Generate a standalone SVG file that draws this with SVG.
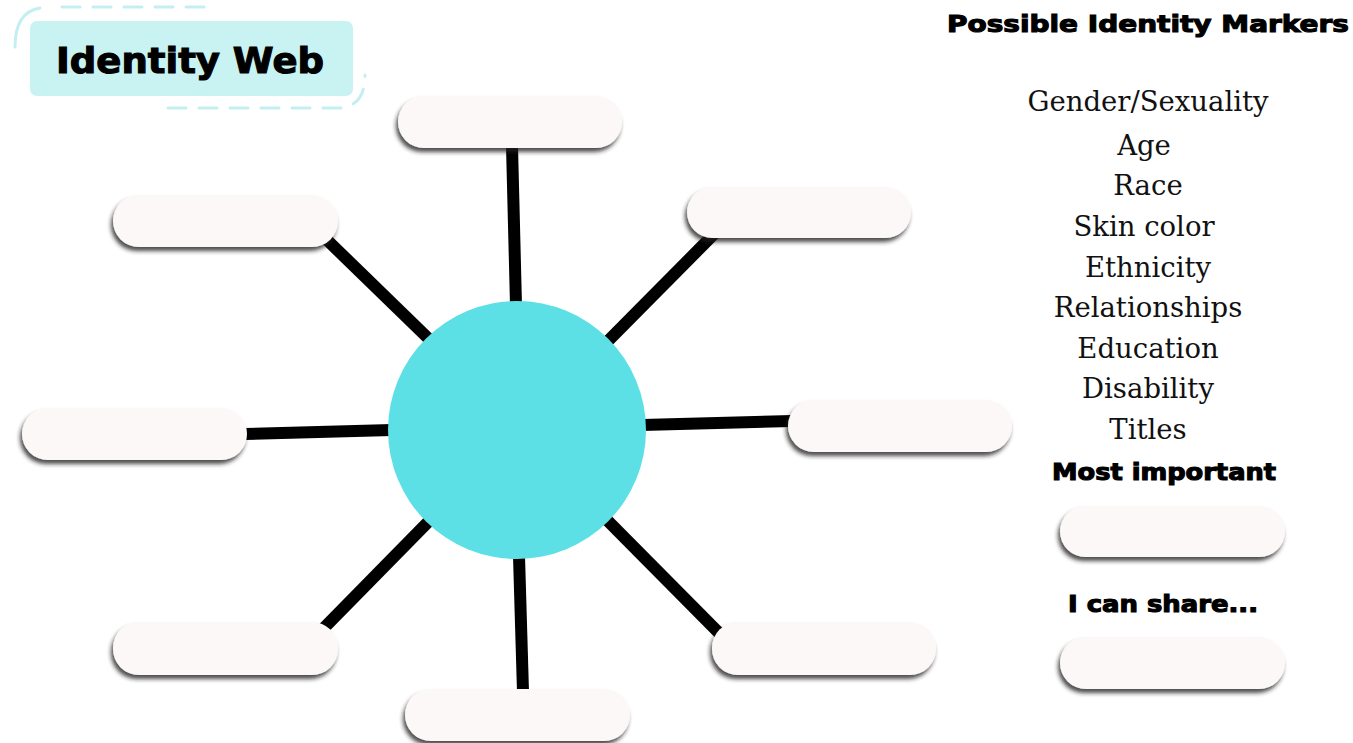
<svg xmlns="http://www.w3.org/2000/svg" width="1353" height="743" viewBox="0 0 1353 743">
<defs>
<filter id="sh" x="-10%" y="-30%" width="120%" height="170%">
<feDropShadow dx="-2" dy="4" stdDeviation="2.2" flood-color="#222" flood-opacity="0.8"/>
</filter>
<style>
.pill{fill:#fdf8f8;filter:url(#sh)}
.spoke{stroke:#000;stroke-width:12;stroke-linecap:butt}
.h{font-family:"DejaVu Sans","Liberation Sans",sans-serif;font-weight:bold;fill:#000;stroke:#000;stroke-width:1.1}
.s{font-family:"DejaVu Serif","Liberation Serif",serif;font-size:27.5px;fill:#111;text-anchor:middle}
.dash{fill:none;stroke:#c4eff2;stroke-width:3;stroke-linecap:round}
</style>
</defs>
<rect width="1353" height="743" fill="#fff"/>
<g id="title">
<path class="dash" d="M15 47 Q15 12 40 8"/>
<path class="dash" d="M62 7 H215" stroke-dasharray="18 13"/>
<path class="dash" d="M168 108 H340 Q365 106 365 75" stroke-dasharray="18 13"/>
<rect x="30" y="21" width="323" height="75" rx="7" fill="#c9f3f3"/>
<text class="h" x="190" y="73" font-size="35" text-anchor="middle" textLength="268" lengthAdjust="spacingAndGlyphs">Identity Web</text>
</g>
<g id="connectors">
<line class="spoke" x1="512" y1="146" x2="516" y2="305"/>
<line class="spoke" x1="325" y1="238" x2="432" y2="342"/>
<line class="spoke" x1="716" y1="232" x2="607" y2="342"/>
<line class="spoke" x1="245" y1="434" x2="392" y2="430"/>
<line class="spoke" x1="642" y1="425" x2="792" y2="421"/>
<line class="spoke" x1="432" y1="518" x2="320" y2="632"/>
<line class="spoke" x1="605" y1="518" x2="720" y2="634"/>
<line class="spoke" x1="519" y1="556" x2="523" y2="692"/>
</g>
<g id="center"><circle cx="517" cy="430" r="129" fill="#5ce0e6"/></g>
<g id="box-top"><rect class="pill" x="398" y="96" width="224" height="52" rx="26"/></g>
<g id="box-upper-left"><rect class="pill" x="113" y="195" width="225" height="52" rx="26"/></g>
<g id="box-upper-right"><rect class="pill" x="687" y="187" width="224" height="51" rx="25.5"/></g>
<g id="box-left"><rect class="pill" x="22" y="408" width="225" height="52" rx="26"/></g>
<g id="box-right"><rect class="pill" x="788" y="400" width="224" height="52" rx="26"/></g>
<g id="box-lower-left"><rect class="pill" x="113" y="622" width="225" height="53" rx="26"/></g>
<g id="box-lower-right"><rect class="pill" x="712" y="622" width="224" height="53" rx="26"/></g>
<g id="box-bottom"><rect class="pill" x="405" y="689" width="225" height="52" rx="26"/></g>
<g id="markers">
<text class="h" x="1148" y="32" font-size="23" text-anchor="middle" textLength="402" lengthAdjust="spacingAndGlyphs">Possible Identity Markers</text>
<text class="s" x="1148" y="111">Gender/Sexuality</text>
<text class="s" x="1144" y="155">Age</text>
<text class="s" x="1148" y="195">Race</text>
<text class="s" x="1144" y="236">Skin color</text>
<text class="s" x="1148" y="277">Ethnicity</text>
<text class="s" x="1148" y="317">Relationships</text>
<text class="s" x="1148" y="358">Education</text>
<text class="s" x="1148" y="398">Disability</text>
<text class="s" x="1148" y="439">Titles</text>
</g>
<g id="most-important">
<text class="h" x="1164" y="480" font-size="23" text-anchor="middle" textLength="224" lengthAdjust="spacingAndGlyphs">Most important</text>
<rect class="pill" x="1060" y="506" width="225" height="51" rx="25.5"/>
</g>
<g id="i-can-share">
<text class="h" x="1163" y="612" font-size="23" text-anchor="middle" textLength="190" lengthAdjust="spacingAndGlyphs">I can share...</text>
<rect class="pill" x="1060" y="637" width="225" height="52" rx="26"/>
</g>
</svg>
